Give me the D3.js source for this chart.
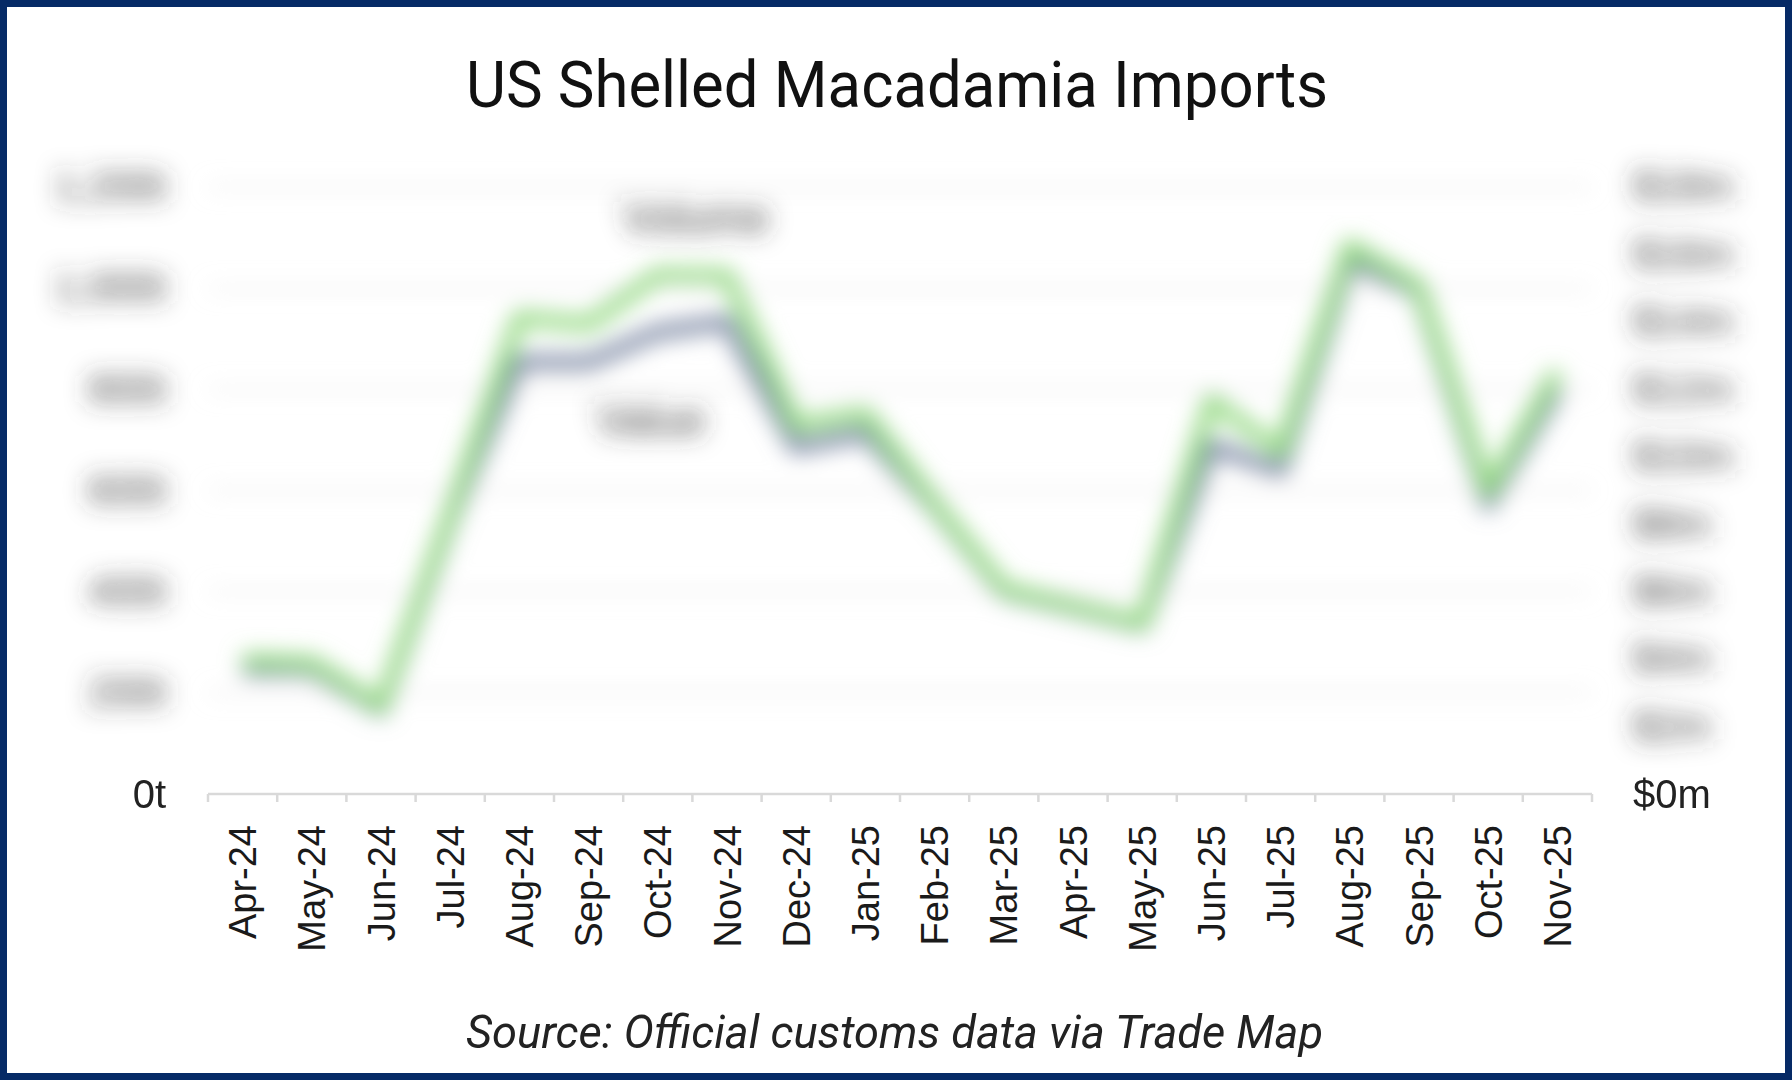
<!DOCTYPE html>
<html>
<head>
<meta charset="utf-8">
<script src="https://cdn.jsdelivr.net/npm/d3@7"></script>
<style>
  html, body { margin: 0; padding: 0; background: #fff; }
  svg { display: block; }
</style>
</head>
<body>
<div id="chart"></div>
<script>
// months on the x axis
var months = ["Apr-24", "May-24", "Jun-24", "Jul-24", "Aug-24", "Sep-24", "Oct-24", "Nov-24",
    "Dec-24", "Jan-25", "Feb-25", "Mar-25", "Apr-25", "May-25", "Jun-25", "Jul-25",
    "Aug-25", "Sep-25", "Oct-25", "Nov-25"];

// volume in tonnes (left axis)
var volume = [264, 259, 174, 553, 941, 929, 1026, 1024, 729, 751, 575, 406, 372, 338, 778, 677, 1083, 1004, 598, 835];

// value in US$ million (right axis)
var value = [3.7, 3.7, 2.5, 8.1, 12.8, 12.8, 13.7, 14.0, 10.3, 10.7, 8.5, 6.0, 5.5, 5.0, 10.3, 9.6, 15.8, 14.9, 8.6, 12.0];

var leftTicks = [0, 200, 400, 600, 800, 1000, 1200];
var rightTicks = [0, 2, 4, 6, 8, 10, 12, 14, 16, 18];

const W = 1792, H = 1080;
const plotLeft = 208, plotRight = 1592, plotTop = 187, plotBottom = 794;

var svg = d3.select('#chart')
    .append('svg')
    .attr('width', W)
    .attr('height', H);

svg.append('rect').attr('width', W).attr('height', H).attr('fill', '#fff');

// blur filters, the source picture is blurred except the zero labels and the x axis
var defs = svg.append('defs');
function addBlur(id, sd) {
    defs.append('filter')
        .attr('id', id)
        .attr('filterUnits', 'userSpaceOnUse')
        .attr('x', 0).attr('y', 0)
        .attr('width', W).attr('height', H)
        .append('feGaussianBlur')
        .attr('stdDeviation', sd);
}
addBlur('blur', 11);
addBlur('blurText', 12);

var x = d3.scaleBand().domain(months).range([plotLeft, plotRight]).paddingInner(0).paddingOuter(0);
var yL = d3.scaleLinear().domain([0, 1200]).range([plotBottom, plotTop]);
var yR = d3.scaleLinear().domain([0, 18]).range([plotBottom, plotTop]);
var cx = d => x(d) + x.bandwidth() / 2;

var blurred = svg.append('g').attr('filter', 'url(#blur)');
var blurredText = svg.append('g').attr('filter', 'url(#blurText)');

// gridlines
blurred.append('g')
    .selectAll('line')
    .data(leftTicks.slice(1))
    .join('line')
    .attr('x1', plotLeft).attr('x2', plotRight)
    .attr('y1', d => yL(d)).attr('y2', d => yL(d))
    .attr('stroke', '#e2e2e2')
    .attr('stroke-width', 3);

// axis labels (blurred ones)
var fmtT = d => d3.format(',')(d) + 't';
var fmtM = d => '$' + d + 'm';

var axL = blurredText.append('g')
    .attr('transform', `translate(${plotLeft},0)`)
    .call(d3.axisLeft(yL).tickValues(leftTicks.slice(1)).tickFormat(fmtT).tickSize(0).tickPadding(42));
var axR = blurredText.append('g')
    .attr('transform', `translate(${plotRight},0)`)
    .call(d3.axisRight(yR).tickValues(rightTicks.slice(1)).tickFormat(fmtM).tickSize(0).tickPadding(41));
[axL, axR].forEach(a => {
    a.select('.domain').remove();
    a.selectAll('text')
        .attr('font-family', 'Liberation Sans, Arial, sans-serif')
        .attr('font-size', 40)
        .attr('fill', '#3a3a3a');
});

// lines
var lineVal = d3.line().x((d, i) => cx(months[i])).y(d => yR(d));
var lineVol = d3.line().x((d, i) => cx(months[i])).y(d => yL(d));

blurred.append('path')
    .datum(value)
    .attr('d', lineVal)
    .attr('fill', 'none')
    .attr('stroke', '#7f8ba5')
    .attr('stroke-width', 15)
    .attr('stroke-linejoin', 'round');

blurred.append('path')
    .datum(volume)
    .attr('d', lineVol)
    .attr('fill', 'none')
    .attr('stroke', '#94d983')
    .attr('stroke-width', 15)
    .attr('stroke-linejoin', 'round');

// series labels
blurredText.append('text')
    .attr('x', x('Oct-24') + x.bandwidth() * 1.05)
    .attr('y', yL(1140))
    .attr('dy', '0.35em')
    .attr('text-anchor', 'middle')
    .attr('font-family', 'Liberation Sans, Arial, sans-serif')
    .attr('font-size', 44)
    .attr('fill', '#3a3a3a')
    .text('Volume');

blurredText.append('text')
    .attr('x', x('Oct-24') + x.bandwidth() * 0.4)
    .attr('y', yR(11.1))
    .attr('dy', '0.35em')
    .attr('text-anchor', 'middle')
    .attr('font-family', 'Liberation Sans, Arial, sans-serif')
    .attr('font-size', 44)
    .attr('fill', '#3a3a3a')
    .text('Value');

// zero labels, not blurred
svg.append('text')
    .attr('x', 166).attr('y', yL(0))
    .attr('dy', '0.35em')
    .attr('text-anchor', 'end')
    .attr('font-family', 'Liberation Sans, Arial, sans-serif')
    .attr('font-size', 40)
    .attr('fill', '#222')
    .text(fmtT(0));
svg.append('text')
    .attr('x', 1633).attr('y', yR(0))
    .attr('dy', '0.35em')
    .attr('font-family', 'Liberation Sans, Arial, sans-serif')
    .attr('font-size', 40)
    .attr('fill', '#222')
    .text(fmtM(0));

// x axis
var axX = svg.append('g').attr('transform', `translate(0,${plotBottom})`);
axX.append('line')
    .attr('x1', plotLeft).attr('x2', plotRight)
    .attr('stroke', '#d9d9d9').attr('stroke-width', 2.5);
axX.selectAll('line.tick')
    .data(months.concat(['end']))
    .join('line')
    .attr('class', 'tick')
    .attr('x1', d => d === 'end' ? plotRight : x(d))
    .attr('x2', d => d === 'end' ? plotRight : x(d))
    .attr('y1', 0).attr('y2', 8)
    .attr('stroke', '#d9d9d9').attr('stroke-width', 2.5);
axX.selectAll('text')
    .data(months)
    .join('text')
    .attr('transform', d => `translate(${cx(d)},31) rotate(-90)`)
    .attr('dy', '0.36em')
    .attr('text-anchor', 'end')
    .attr('font-family', 'Liberation Sans, Arial, sans-serif')
    .attr('font-size', 38)
    .attr('fill', '#1a1a1a')
    .text(d => d);

// title and source
svg.append('text')
    .attr('x', 466).attr('y', 107)
    .attr('textLength', 862)
    .attr('lengthAdjust', 'spacingAndGlyphs')
    .attr('font-family', 'Roboto, Liberation Sans, sans-serif')
    .attr('font-size', 64)
    .attr('fill', '#111')
    .text('US Shelled Macadamia Imports');

svg.append('text')
    .attr('x', 466).attr('y', 1048)
    .attr('textLength', 857)
    .attr('lengthAdjust', 'spacingAndGlyphs')
    .attr('font-family', 'Roboto, Liberation Sans, sans-serif')
    .attr('font-style', 'italic')
    .attr('font-size', 46)
    .attr('fill', '#222')
    .text('Source: Official customs data via Trade Map');

// frame
svg.append('rect')
    .attr('x', 3.5).attr('y', 3.5)
    .attr('width', W - 7).attr('height', H - 7)
    .attr('fill', 'none')
    .attr('stroke', '#062a66')
    .attr('stroke-width', 7);
</script>
</body>
</html>
